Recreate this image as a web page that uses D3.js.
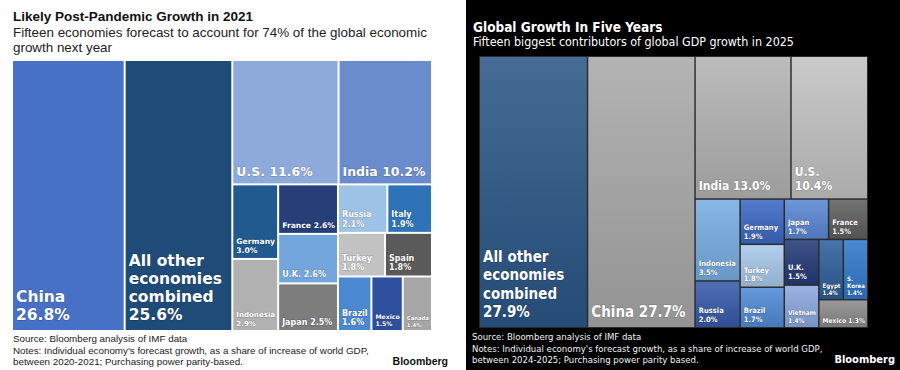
<!DOCTYPE html>
<html>
<head>
<meta charset="utf-8">
<script src="https://cdn.jsdelivr.net/npm/d3@7"></script>
<style>
  body { margin: 0; background: #fff; }
  svg { display: block; }
</style>
</head>
<body>
<svg id="chart" width="900" height="370"></svg>
<script>
// --- 2021 chart (left) ---
const leftNames = ["China", "All other\neconomies\ncombined", "U.S.", "India", "Germany", "Indonesia",
  "France", "U.K.", "Japan", "Russia", "Italy", "Turkey", "Spain", "Brazil", "Mexico", "Canada"];
const leftShares = [26.8, 25.6, 11.6, 10.2, 3.0, 2.9, 2.6, 2.6, 2.5, 2.1, 1.9, 1.8, 1.8, 1.6, 1.5, 1.4];
// how the tiles are grouped (indices into the arrays above)
const leftNesting = [0, 1, [[2, 3], [[4, 5], [6, 7, 8], [[9, 10], [11, 12], [13, 14, 15]]]]];
const leftInline = ["U.S.", "India", "France", "U.K.", "Japan"];

// --- 2025 chart (right) ---
const rightNames = ["All other\neconomies\ncombined", "China", "India", "U.S.", "Indonesia", "Russia",
  "Germany", "Turkey", "Brazil", "Japan", "France", "U.K.", "Vietnam", "Egypt", "S.\nKorea", "Mexico"];
const rightShares = [27.9, 27.7, 13.0, 10.4, 3.5, 2.0, 1.9, 1.8, 1.7, 1.7, 1.5, 1.5, 1.4, 1.4, 1.4, 1.3];
const rightNesting = [0, 1, [[2, 3], [[4, 5], [6, 7, 8], [[9, 10], [[11, 12], [[13, 14], 15]]]]]];
const rightInline = ["China", "India", "Mexico"];

const leftColors = {
  "China": "#4671c6", "All other\neconomies\ncombined": "#1f4b78", "U.S.": "#8eaadb", "India": "#6a8ccd",
  "Germany": "#215a8f", "Indonesia": "#b1b1b1", "France": "#263f78", "U.K.": "#72a6dc",
  "Japan": "#7d7d7d", "Russia": "#9ec2e6", "Italy": "#2e73b8", "Turkey": "#c2c2c2",
  "Spain": "#5a5a5a", "Brazil": "#4a89d2", "Mexico": "#2e4f9e", "Canada": "#a6a6a6"
};
const rightColors = {
  "All other\neconomies\ncombined": "#2a5686", "China": "#a8a8a8", "India": "#b2b2b2", "U.S.": "#c2c2c2",
  "Indonesia": "#78ade2", "Russia": "#3659aa", "Germany": "#3b68c4", "Turkey": "#a7c7ea",
  "Brazil": "#4f8ad6", "Japan": "#5a86d4", "France": "#5e5e5e", "U.K.": "#233a76",
  "Vietnam": "#8ba6df", "Egypt": "#2c5e9a", "S.\nKorea": "#2f78cc", "Mexico": "#8a8a8a"
};

const svg = d3.select("#chart");

function buildTree(spec) {
  return typeof spec === "number" ? { i: spec } : { children: spec.map(buildTree) };
}

function drawTreemap(opts) {
  const root = d3.hierarchy(buildTree(opts.nesting))
    .sum(d => d.children ? 0 : opts.shares[d.i]);
  d3.treemap()
    .tile(d3.treemapSliceDice)
    .size([opts.width, opts.height])
    .paddingInner(opts.gap)(root);

  const g = svg.append("g").attr("transform", `translate(${opts.x},${opts.y})`);
  if (opts.back) {
    g.append("rect").attr("x", -1).attr("y", -1)
      .attr("width", opts.width + 2).attr("height", opts.height + 2)
      .attr("fill", opts.back);
  }

  const cell = g.selectAll("g.cell")
    .data(root.leaves())
    .join("g")
    .attr("class", "cell")
    .attr("transform", d => `translate(${d.x0},${d.y0})`);

  cell.append("rect")
    .attr("width", d => d.x1 - d.x0)
    .attr("height", d => d.y1 - d.y0)
    .attr("fill", d => opts.colors[opts.names[d.data.i]]);

  if (opts.shade) {
    cell.append("rect")
      .attr("width", d => d.x1 - d.x0)
      .attr("height", d => d.y1 - d.y0)
      .attr("fill", `url(#${opts.shade})`);
  }

  cell.each(function(d) {
    const name = opts.names[d.data.i];
    const val = opts.shares[d.data.i].toFixed(1) + "%";
    const lines = opts.inline.includes(name)
      ? [name + " " + val]
      : name.split("\n").concat([val]);
    const w = d.x1 - d.x0, h = d.y1 - d.y0;
    const v = opts.shares[d.data.i];
    let size = v >= 20 ? opts.big : v >= 5 ? opts.mid : opts.small;
    const text = d3.select(this).append("text")
      .attr("font-family", opts.labelFont)
      .attr("font-weight", "bold")
      .attr("fill", "#fff")
      .attr("stroke", "rgba(0,0,0,0.25)")
      .attr("stroke-width", 0.8)
      .attr("paint-order", "stroke")
      .attr("font-size", size);
    const spans = text.selectAll("tspan").data(lines).join("tspan")
      .attr("x", 3)
      .text(t => t);
    // shrink text that does not fit the tile
    let widest = 0;
    spans.each(function() { widest = Math.max(widest, this.getComputedTextLength()); });
    if (widest > w - 5) {
      size = size * (w - 5) / widest;
      text.attr("font-size", size);
    }
    const lh = size * (v >= 20 ? opts.bigLine : 1.18);
    spans.attr("y", (t, k) => h - opts.bottomPad * size / opts.small - (lines.length - 1 - k) * lh);
  });
}

// shading used on the dark panel tiles
const defs = svg.append("defs");
const grad = defs.append("linearGradient").attr("id", "shade")
  .attr("x1", 0).attr("y1", 0).attr("x2", 0).attr("y2", 1);
grad.append("stop").attr("offset", 0).attr("stop-color", "#fff").attr("stop-opacity", 0.13);
grad.append("stop").attr("offset", 1).attr("stop-color", "#000").attr("stop-opacity", 0.12);

// ---- left panel ----
const sans = "'Liberation Sans', Arial, Helvetica, sans-serif";
svg.append("text").attr("x", 13).attr("y", 21)
  .attr("font-family", sans).attr("font-weight", "bold").attr("font-size", 13.5)
  .attr("fill", "#111").text("Likely Post-Pandemic Growth in 2021");
svg.append("text").attr("font-family", sans).attr("font-size", 13.4).attr("fill", "#222")
  .selectAll("tspan")
  .data(["Fifteen economies forecast to account for 74% of the global economic", "growth next year"])
  .join("tspan").attr("x", 13).attr("y", (d, i) => 37 + i * 15).text(d => d);

drawTreemap({
  names: leftNames, shares: leftShares, nesting: leftNesting, inline: leftInline,
  colors: leftColors, x: 13, y: 61, width: 418, height: 269, gap: 2,
  labelFont: "'DejaVu Sans', Verdana, sans-serif",
  big: 15.5, mid: 12.5, small: 8, bottomPad: 5, bigLine: 1.16
});

svg.append("text").attr("font-family", sans).attr("font-size", 9.8).attr("fill", "#222")
  .selectAll("tspan")
  .data(["Source: Bloomberg analysis of IMF data",
    "Notes: Individual economy's forecast growth, as a share of increase of world GDP,",
    "between 2020-2021; Purchasing power parity-based."])
  .join("tspan").attr("x", 13).attr("y", (d, i) => 342 + i * 11.7).text(d => d);
svg.append("text").attr("x", 448).attr("y", 365).attr("text-anchor", "end")
  .attr("font-family", sans).attr("font-weight", "bold").attr("font-size", 10.5)
  .attr("fill", "#111").text("Bloomberg");

// ---- right panel ----
svg.append("rect").attr("x", 466).attr("y", 0).attr("width", 434).attr("height", 370).attr("fill", "#000");
const cond = "'DejaVu Sans Condensed', 'DejaVu Sans', Tahoma, sans-serif";
svg.append("text").attr("x", 473).attr("y", 32)
  .attr("font-family", cond).attr("font-weight", "bold").attr("font-size", 13.5)
  .attr("fill", "#fff").text("Global Growth In Five Years");
svg.append("text").attr("x", 473).attr("y", 46)
  .attr("font-family", cond).attr("font-size", 12.4)
  .attr("fill", "#fff").text("Fifteen biggest contributors of global GDP growth in 2025");

drawTreemap({
  names: rightNames, shares: rightShares, nesting: rightNesting, inline: rightInline,
  colors: rightColors, x: 480, y: 57, width: 387, height: 270, gap: 1.5,
  back: "#2b2b2b", shade: "shade",
  labelFont: "'DejaVu Sans Condensed', 'DejaVu Sans', Tahoma, sans-serif",
  big: 15, mid: 12, small: 7.5, bottomPad: 5, bigLine: 1.22
});

svg.append("text").attr("font-family", cond).attr("font-size", 9.5).attr("fill", "#f2f2f2")
  .selectAll("tspan")
  .data(["Source: Bloomberg analysis of IMF data",
    "Notes: Individual economy's forecast growth, as a share of increase of world GDP,",
    "between 2024-2025; Purchasing power parity based."])
  .join("tspan").attr("x", 472).attr("y", (d, i) => 340 + i * 11.6).text(d => d);
svg.append("text").attr("x", 895).attr("y", 363).attr("text-anchor", "end")
  .attr("font-family", cond).attr("font-weight", "bold").attr("font-size", 11)
  .attr("fill", "#fff").text("Bloomberg");
</script>
</body>
</html>
